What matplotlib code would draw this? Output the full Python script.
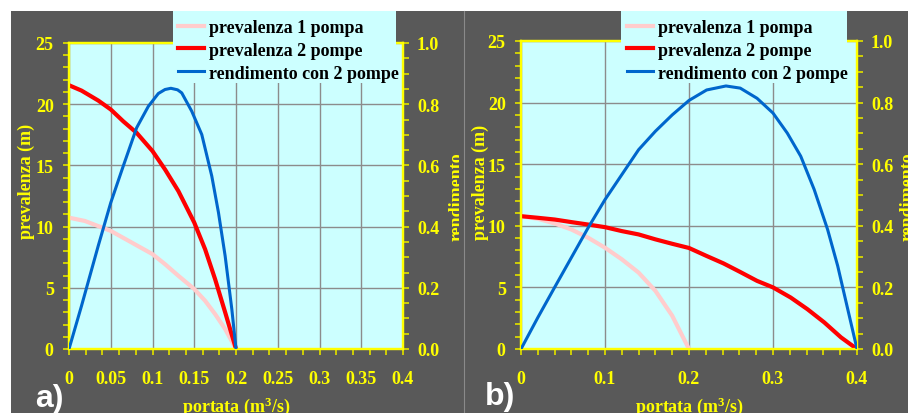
import matplotlib
matplotlib.use('Agg')
import matplotlib.pyplot as plt
from matplotlib.patches import Rectangle
from matplotlib.lines import Line2D
from matplotlib.ticker import MultipleLocator, FuncFormatter

### Data ###

# panel a) - pompe in serie
q_a_h1 = [0, 0.019, 0.05, 0.075, 0.1, 0.115, 0.131, 0.15, 0.163, 0.175, 0.187, 0.2]
h1_a = [10.73, 10.46, 9.65, 8.7, 7.75, 6.93, 5.98, 4.9, 3.94, 2.85, 1.63, 0]

q_a_h2 = [0, 0.015, 0.035, 0.05, 0.065, 0.081, 0.1, 0.115, 0.131, 0.15,
          0.163, 0.175, 0.187, 0.2]
h2_a = [21.55, 21.11, 20.3, 19.57, 18.6, 17.66, 16.17, 14.67, 12.9, 10.33,
        8.15, 5.7, 3.0, 0]

q_a_eta = [0, 0.015, 0.035, 0.05, 0.065, 0.081, 0.095, 0.107, 0.115, 0.122,
           0.13, 0.135, 0.147, 0.159, 0.171, 0.179, 0.187, 0.195, 0.2]
eta_a = [0, 0.141, 0.337, 0.478, 0.598, 0.723, 0.793, 0.835, 0.848, 0.852,
         0.847, 0.837, 0.777, 0.701, 0.565, 0.446, 0.304, 0.130, 0]

# panel b) - pompe in parallelo
q_b_h1 = [0, 0.02, 0.04, 0.06, 0.08, 0.1, 0.12, 0.14, 0.16, 0.18, 0.193, 0.2]
h1_b = [10.78, 10.57, 10.19, 9.7, 9.03, 8.22, 7.28, 6.2, 4.72, 2.7, 0.94, 0]

q_b_h2 = [0, 0.02, 0.04, 0.06, 0.08, 0.1, 0.12, 0.14, 0.16, 0.18, 0.2,
          0.221, 0.241, 0.261, 0.281, 0.3, 0.321, 0.341, 0.361, 0.381, 0.4]
h2_b = [10.78, 10.65, 10.51, 10.3, 10.1, 9.89, 9.57, 9.3, 8.9, 8.54, 8.2,
        7.55, 6.95, 6.25, 5.53, 5.0, 4.18, 3.23, 2.16, 0.94, 0]

q_b_eta = [0, 0.02, 0.04, 0.06, 0.08, 0.1, 0.12, 0.14, 0.16, 0.18, 0.2,
           0.221, 0.244, 0.261, 0.281, 0.3, 0.317, 0.333, 0.349, 0.365,
           0.377, 0.389, 0.4]
eta_b = [0, 0.102, 0.2, 0.297, 0.394, 0.485, 0.566, 0.647, 0.707, 0.76,
         0.807, 0.841, 0.854, 0.847, 0.814, 0.766, 0.701, 0.626, 0.518,
         0.388, 0.27, 0.129, 0]

labels = ['prevalenza 1 pompa', 'prevalenza 2 pompe', 'rendimento con 2 pompe']

### Styling ###

W, H = 908, 414
BG = '#595959'
CYAN = '#CCFFFF'
YEL = '#FFFF00'
TICK = '#d8d800'
GRID = '#8c8c8c'
C_H1, C_H2, C_ETA = '#FFCCCC', '#FF0000', '#0066CC'
SERIF = 'Liberation Serif'
FS = 13

plt.rcParams['font.family'] = [SERIF, 'DejaVu Serif']
plt.rcParams['font.weight'] = 'bold'
plt.rcParams['mathtext.fontset'] = 'custom'
plt.rcParams['mathtext.rm'] = SERIF + ':bold'
plt.rcParams['mathtext.default'] = 'rm'


def fx(px):
    return px / W

def fy(py):
    return 1 - py / H

fig = plt.figure(figsize=(W / 100, H / 100), dpi=100, facecolor='white')
fig.patches.append(Rectangle((fx(11), 0), fx(W - 11), fy(12),
                             transform=fig.transFigure, facecolor=BG,
                             edgecolor='none', zorder=-10))
fig.lines.append(Line2D([fx(463.5)] * 2, [0, fy(12)], transform=fig.transFigure,
                        color='#8a8a8a', lw=0.8, zorder=-5))


def draw_panel(box, q1, h1, q2, h2, qe, eta, xmajor, xfmt, leg_box, leg_xy):
    left, top, right, bottom = box
    ax = fig.add_axes([fx(left), fy(bottom), fx(right - left), (bottom - top) / H])
    ax.set_facecolor(CYAN)
    ax2 = ax.twinx()

    ax.plot(q1, h1, color=C_H1, lw=3.0, solid_capstyle='butt', zorder=3)
    ax.plot(q2, h2, color=C_H2, lw=3.0, solid_capstyle='butt', zorder=4)
    ax2.plot(qe, eta, color=C_ETA, lw=2.2, solid_capstyle='butt', zorder=3)

    ax.set_xlim(0, 0.4)
    ax.set_ylim(0, 25)
    ax2.set_ylim(0, 1)

    ax.xaxis.set_major_locator(MultipleLocator(xmajor))
    ax.xaxis.set_minor_locator(MultipleLocator(0.02))
    ax.xaxis.remove_overlapping_locs = False
    ax.xaxis.set_major_formatter(FuncFormatter(xfmt))
    ax.yaxis.set_major_locator(MultipleLocator(5))
    ax.yaxis.set_minor_locator(MultipleLocator(1))
    ax2.yaxis.set_major_locator(MultipleLocator(0.2))
    ax2.yaxis.set_minor_locator(MultipleLocator(0.05))
    ax2.yaxis.set_major_formatter(FuncFormatter(lambda v, p: '%.1f' % v))

    ax.grid(True, which='major', color=GRID, lw=1.0)
    ax.set_axisbelow(True)

    for a in (ax, ax2):
        for s in a.spines.values():
            s.set_color(YEL)
            s.set_linewidth(1.6)
    ax.tick_params(axis='x', which='major', length=0, pad=15, labelcolor=YEL,
                   labelsize=FS)
    ax.tick_params(axis='x', which='minor', length=4, width=1.3, color=TICK,
                   direction='out')
    ax.tick_params(axis='y', which='both', length=4, width=1.3, color=TICK,
                   direction='out', pad=7, labelcolor=YEL, labelsize=FS)
    ax2.tick_params(axis='y', which='both', length=4, width=1.3, color=TICK,
                    direction='out', pad=6, labelcolor=YEL, labelsize=FS)

    # cyan legend box hanging over the top of the plot
    lx0, ly0, lx1, ly1 = leg_box
    ax2.add_patch(Rectangle((fx(lx0), fy(ly1)), fx(lx1 - lx0), (ly1 - ly0) / H,
                            transform=fig.transFigure, facecolor=CYAN,
                            edgecolor='none', clip_on=False, zorder=4))
    handles = [Line2D([], [], color=C_H1, lw=3.0),
               Line2D([], [], color=C_H2, lw=3.0),
               Line2D([], [], color=C_ETA, lw=2.2)]
    leg = ax2.legend(handles, labels, loc='upper left',
                     bbox_to_anchor=(fx(leg_xy[0]), fy(leg_xy[1])),
                     bbox_transform=fig.transFigure, frameon=False,
                     borderpad=0, borderaxespad=0, handlelength=1.45,
                     handletextpad=0.25, labelspacing=0.32,
                     prop={'family': SERIF, 'weight': 'bold', 'size': FS})
    leg.set_zorder(5)
    return ax, ax2


draw_panel((69, 44, 403, 350), q_a_h1, h1_a, q_a_h2, h2_a, q_a_eta, eta_a,
           0.05, lambda v, p: ('%.2f' % v).rstrip('0').rstrip('.') if v else '0',
           (173, 12, 396, 84), (178, 20))
draw_panel((521, 42, 857, 350), q_b_h1, h1_b, q_b_h2, h2_b, q_b_eta, eta_b,
           0.1, lambda v, p: ('%.1f' % v) if v else '0',
           (621, 12, 847, 84), (627, 20))

# axis titles and panel tags
lab = dict(family=SERIF, weight='bold', size=FS, color=YEL)
fig.text(fx(26), fy(181), 'prevalenza (m)', rotation=90, ha='center',
         va='center', **lab)
fig.text(fx(480), fy(182), 'prevalenza (m)', rotation=90, ha='center',
         va='center', **lab)
fig.text(fx(236), fy(412), 'portata (m$^3$/s)', ha='center', va='baseline', **lab)
fig.text(fx(689), fy(412), 'portata (m$^3$/s)', ha='center', va='baseline', **lab)
t = fig.text(fx(449), fy(197), 'rendimento', rotation=90, ha='left',
             va='center', **lab)
t.set_clip_path(Rectangle((0, 0), fx(459), 1, transform=fig.transFigure))
fig.text(fx(900), fy(197), 'rendimento', rotation=90, ha='left', va='center',
         **lab)

tag = dict(family='Liberation Sans', weight='bold', size=23, color='white')
fig.text(fx(35), fy(407), 'a)', ha='left', va='baseline', **tag)
fig.text(fx(485), fy(405), 'b)', ha='left', va='baseline', **tag)

fig.savefig('out.png', dpi=100, facecolor='white')
